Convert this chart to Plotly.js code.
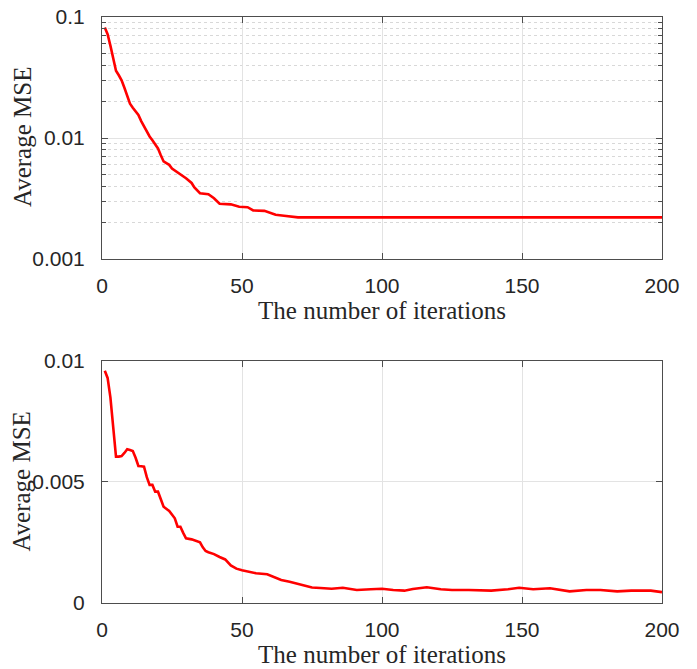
<!DOCTYPE html>
<html>
<head>
<meta charset="utf-8">
<script src="https://cdn.plot.ly/plotly-3.0.1.min.js"></script>
<style>html,body{margin:0;padding:0;background:#fff;}#chart{width:697px;height:669px;}</style>
</head>
<body>
<div id="chart"></div>
<script>
// Top panel: Average MSE (log scale) vs iterations
const topIter = [1, 2, 3, 4, 5, 6, 7, 8, 9, 10, 11, 12, 13, 14, 15, 16, 17, 18, 19, 20, 21, 22, 23, 24, 25, 26, 27, 28, 30, 32, 33, 35, 38, 40, 42, 46, 49, 52, 54, 58, 60, 62, 65, 67, 70, 80, 100, 120, 150, 180, 200];
const topMSE = [0.082, 0.072, 0.058, 0.045, 0.036, 0.033, 0.030, 0.026, 0.022, 0.0192, 0.0178, 0.0167, 0.0155, 0.0138, 0.0125, 0.0114, 0.0103, 0.0096, 0.0089, 0.0082, 0.0072, 0.0064, 0.0062, 0.0060, 0.0056, 0.0054, 0.0052, 0.0050, 0.00465, 0.00425, 0.00390, 0.00350, 0.00343, 0.00318, 0.00286, 0.00283, 0.00270, 0.00268, 0.00252, 0.00250, 0.00242, 0.00232, 0.00228, 0.00224, 0.00221, 0.00221, 0.00221, 0.00221, 0.00221, 0.00221, 0.00221];

// Bottom panel: Average MSE (linear) vs iterations
const botIter = [1, 2, 3, 4, 5, 6, 7, 8, 9, 10, 11, 12, 13, 14, 15, 16, 17, 18, 19, 20, 21, 22, 24, 26, 27, 28, 29, 30, 32, 34, 35, 36, 37, 38, 40, 42, 44, 46, 48, 50, 53, 55, 59, 61, 64, 67, 71, 75, 78, 82, 86, 91, 96, 100, 104, 108, 111, 116, 121, 125, 131, 139, 145, 149, 154, 160, 167, 173, 178, 184, 189, 192, 196, 200];
const botMSE = [0.0096, 0.0093, 0.0085, 0.0074, 0.00605, 0.00605, 0.00607, 0.0062, 0.00635, 0.00632, 0.00628, 0.0060, 0.00566, 0.00565, 0.00563, 0.0052, 0.00488, 0.00488, 0.0046, 0.0046, 0.0043, 0.00398, 0.0038, 0.0035, 0.00315, 0.00315, 0.0029, 0.00267, 0.00263, 0.00253, 0.00251, 0.0023, 0.00215, 0.0021, 0.00202, 0.0019, 0.0018, 0.00155, 0.00142, 0.00135, 0.00129, 0.00123, 0.00119, 0.00109, 0.00095, 0.00088, 0.00076, 0.00064, 0.00062, 0.00059, 0.00063, 0.00054, 0.00057, 0.00059, 0.00054, 0.00051, 0.00058, 0.00065, 0.00057, 0.00054, 0.00054, 0.00051, 0.00057, 0.00063, 0.00057, 0.00061, 0.00048, 0.00054, 0.00054, 0.00048, 0.00051, 0.00052, 0.00051, 0.00045];

const xTickVals = [0, 50, 100, 150, 200];
const xTickText = ['0', '50', '100', '150', '200'];
const topTickVals = [0.001, 0.01, 0.1];
const topTickText = ['0.001', '0.01', '0.1'];
const botTickVals = [0, 0.005, 0.01];
const botTickText = ['0', '0.005', '0.01'];

const xTitle = 'The number of iterations';
const yTitle = 'Average MSE';

const axisColor = '#4d4d4d';
const gridColor = '#e3e3e3';
const tickFont = {family: 'Liberation Sans, Arial, sans-serif', size: 21, color: '#262626'};
const titleFont = {family: 'Liberation Serif, Times New Roman, serif', size: 25, color: '#262626'};

function xAxis(anchor) {
  return {
    anchor: anchor, range: [0, 200], tickvals: xTickVals, ticktext: xTickText,
    showgrid: true, gridcolor: gridColor, gridwidth: 1,
    showline: true, linecolor: axisColor, linewidth: 1, mirror: 'ticks',
    ticks: 'inside', ticklen: 6, tickcolor: axisColor, tickfont: tickFont,
    ticklabelstandoff: 8,
    zeroline: false,
    title: {text: xTitle, font: titleFont, standoff: 4}
  };
}

function yCommon() {
  return {
    showgrid: true, gridcolor: gridColor, gridwidth: 1,
    showline: true, linecolor: axisColor, linewidth: 1, mirror: 'ticks',
    ticks: 'inside', ticklen: 6, tickcolor: axisColor, tickfont: tickFont,
    ticklabelstandoff: 12,
    zeroline: false
  };
}

function yTitleAnn(yCenter) {
  return {
    text: yTitle, xref: 'paper', yref: 'paper', x: -0.143, y: yCenter,
    xanchor: 'center', yanchor: 'middle', textangle: -90, showarrow: false,
    font: titleFont
  };
}

const traces = [
  {x: topIter, y: topMSE, xaxis: 'x', yaxis: 'y', type: 'scatter', mode: 'lines',
   line: {color: '#ff0000', width: 2.6}, showlegend: false},
  {x: botIter, y: botMSE, xaxis: 'x2', yaxis: 'y2', type: 'scatter', mode: 'lines',
   line: {color: '#ff0000', width: 2.6}, showlegend: false}
];

const layout = {
  width: 697, height: 669,
  margin: {l: 102, r: 35, t: 17, b: 66},
  paper_bgcolor: '#ffffff', plot_bgcolor: '#ffffff',
  showlegend: false,
  xaxis: Object.assign(xAxis('y'), {domain: [0, 1]}),
  yaxis: Object.assign(yCommon(), {
    anchor: 'x', domain: [0.587, 1], type: 'log', range: [-3, -1],
    tickvals: topTickVals, ticktext: topTickText,
    minor: {dtick: 'D1', showgrid: true, gridcolor: '#d8d8d8', griddash: 'dot', ticks: 'inside', ticklen: 4, tickcolor: axisColor}
  }),
  xaxis2: Object.assign(xAxis('y2'), {domain: [0, 1]}),
  yaxis2: Object.assign(yCommon(), {
    anchor: 'x2', domain: [0, 0.413], range: [0, 0.01],
    tickvals: botTickVals, ticktext: botTickText
  }),
  annotations: [yTitleAnn(0.795), yTitleAnn(0.207)]
};

Plotly.newPlot('chart', traces, layout, {displayModeBar: false, staticPlot: true});
</script>
</body>
</html>
